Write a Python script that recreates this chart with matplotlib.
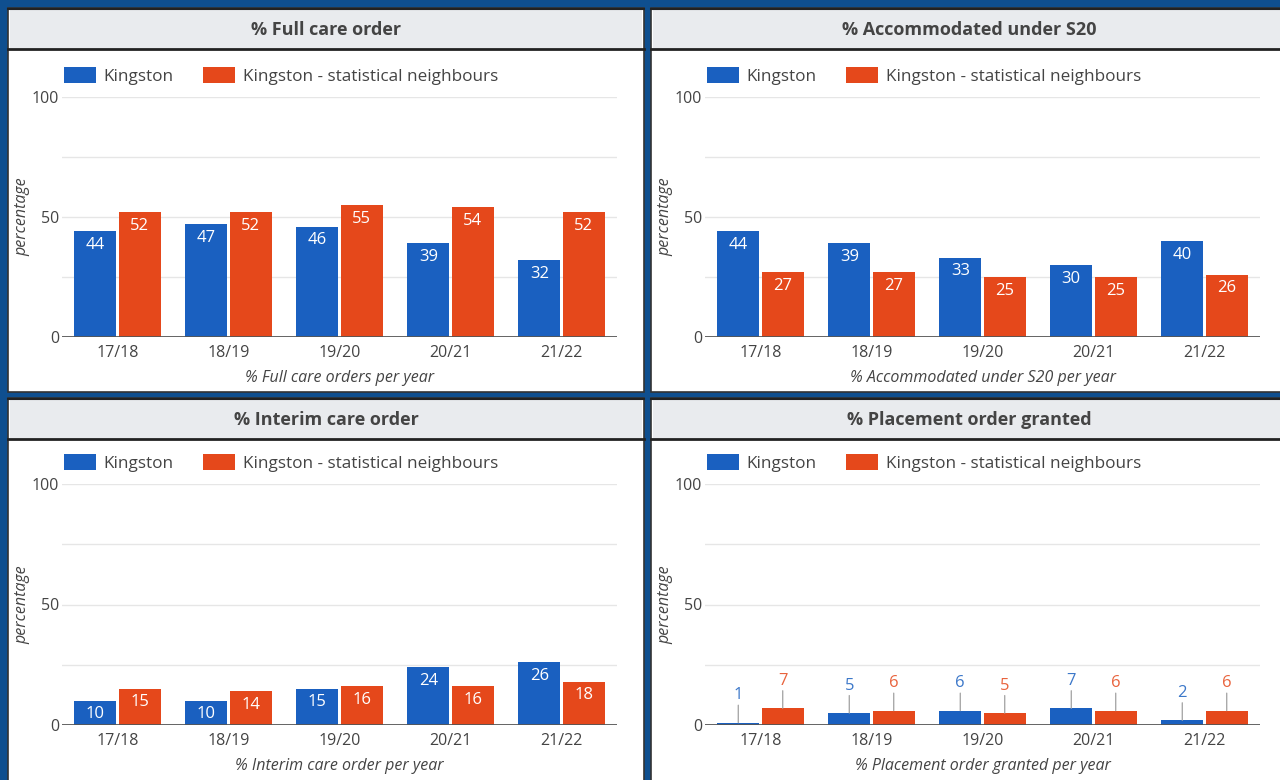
import matplotlib
matplotlib.use("Agg")
import matplotlib.pyplot as plt
from matplotlib.patches import Rectangle
import numpy as np

years = ["17/18", "18/19", "19/20", "20/21", "21/22"]
series_names = ["Kingston", "Kingston - statistical neighbours"]

full_care_k = [44, 47, 46, 39, 32]
full_care_sn = [52, 52, 55, 54, 52]
s20_k = [44, 39, 33, 30, 40]
s20_sn = [27, 27, 25, 25, 26]
interim_k = [10, 10, 15, 24, 26]
interim_sn = [15, 14, 16, 16, 18]
placement_k = [1, 5, 6, 7, 2]
placement_sn = [7, 6, 5, 6, 6]

titles = ["% Full care order", "% Accommodated under S20",
          "% Interim care order", "% Placement order granted"]
xlabels = ["% Full care orders per year", "% Accommodated under S20 per year",
           "% Interim care order per year", "% Placement order granted per year"]

BLUE = "#1a60c0"
ORANGE = "#e5481b"
BG = "#0f4f8f"
TITLEBG = "#e9ebee"
TEXT = "#444444"

plt.rcParams['font.family'] = ['Open Sans', 'DejaVu Sans']

W, H = 1280, 780
fig = plt.figure(figsize=(12.8, 7.8), dpi=100)
fig.patch.set_facecolor(BG)

def fx(x):
    return x / W

def fy(y):
    return 1 - y / H

def rect(x0, y0, x1, y1, z, **kw):
    r = Rectangle((fx(x0), fy(y1)), fx(x1) - fx(x0), fy(y0) - fy(y1),
                  transform=fig.transFigure, zorder=z, **kw)
    fig.patches.append(r)

def hline(x0, x1, y, lw, z):
    fig.add_artist(plt.Line2D([fx(x0), fx(x1)], [fy(y), fy(y)],
                              transform=fig.transFigure, color="#222222",
                              linewidth=lw, zorder=z))

panels = [
    (8, 8, 644, 392, full_care_k, full_care_sn, False),
    (651, 8, 1290, 392, s20_k, s20_sn, False),
    (8, 398, 644, 790, interim_k, interim_sn, False),
    (651, 398, 1290, 790, placement_k, placement_sn, True),
]

for i, (x0, y0, x1, y1, kv, sv, outside) in enumerate(panels):
    rect(x0, y0, x1, y1, -3, facecolor="white", edgecolor="#333333", linewidth=1.2)
    rect(x0 + 2, y0 + 2, x1 - 2, y0 + 41, -2, facecolor=TITLEBG, edgecolor="none")
    hline(x0, x1, y0 + 41, 2, -1)
    hline(x0, x1, y0 + 1, 1.5, -1)
    cx = x0 + 318
    fig.text(fx(cx), fy(y0 + 22), titles[i], ha="center", va="center",
             fontsize=13, fontweight="bold", color=TEXT)

    ax0 = x0 + 54
    ax1 = x0 + 609
    top = y0 + 89 if i < 2 else y0 + 86
    bot = y0 + 329 if i < 2 else y0 + 327
    ax = fig.add_axes([fx(ax0), fy(bot), fx(ax1) - fx(ax0), fy(top) - fy(bot)])
    ax.set_facecolor("none")
    x = np.arange(len(years))
    w = 0.38
    bk = ax.bar(x - 0.2, kv, width=w, color=BLUE, label=series_names[0], zorder=3)
    bs = ax.bar(x + 0.2, sv, width=w, color=ORANGE, label=series_names[1], zorder=3)
    ax.set_ylim(0, 100)
    ax.set_xlim(-0.5, 4.5)
    ax.set_yticks([0, 50, 100])
    for g in [25, 50, 75, 100]:
        ax.axhline(g, color="#e6e6e6", linewidth=1, zorder=1)
    ax.axhline(0, color="#555555", linewidth=2, zorder=4)
    for s in ax.spines.values():
        s.set_visible(False)
    ax.tick_params(axis="both", length=0, labelsize=11.5, colors=TEXT)
    ax.tick_params(axis="y", pad=2)
    ax.tick_params(axis="x", pad=6)
    ax.set_xticks(x)
    ax.set_xticklabels(years)
    ax.set_xlabel(xlabels[i], fontstyle="italic", fontsize=11.5, color=TEXT, labelpad=6)
    ax.set_ylabel("percentage", fontstyle="italic", fontsize=11.5, color=TEXT, labelpad=1)
    hpx = bot - top
    ax.legend(loc="center left", bbox_to_anchor=(2 / 555, 1 + 21 / hpx), ncol=2,
              frameon=False, fontsize=12.3, handlelength=1.85, handleheight=1.1,
              handletextpad=0.45, columnspacing=1.75, borderaxespad=0, borderpad=0,
              labelcolor=TEXT)

    for bars, vals, col in [(bk, kv, BLUE), (bs, sv, ORANGE)]:
        for b, v in zip(bars, vals):
            xc = b.get_x() + b.get_width() / 2
            if outside:
                ax.annotate("", xy=(xc, v), xytext=(0, 12.5), textcoords="offset points",
                            arrowprops=dict(arrowstyle="-", color="#aaaaaa", lw=1,
                                            shrinkA=0, shrinkB=0), zorder=5)
                ax.annotate(str(v), xy=(xc, v), xytext=(0, 14), textcoords="offset points",
                            ha="center", va="bottom", fontsize=12, color=col,
                            alpha=0.85, zorder=5)
            else:
                ax.annotate(str(v), xy=(xc, v), xytext=(0, -4), textcoords="offset points",
                            ha="center", va="top", fontsize=12, color="white", zorder=5)

fig.savefig("out.png", dpi=100, facecolor=BG)
